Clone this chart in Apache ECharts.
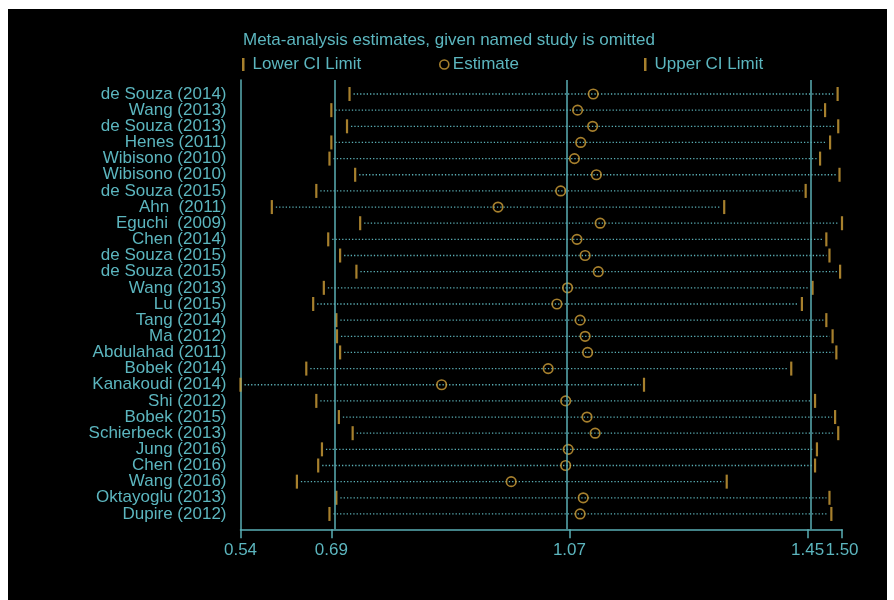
<!DOCTYPE html>
<html>
<head>
<meta charset="utf-8">
<script src="https://cdn.jsdelivr.net/npm/echarts@6/dist/echarts.min.js"></script>
<style>
  html, body { margin: 0; padding: 0; background: #ffffff; }
  #chart { width: 894px; height: 600px; }
</style>
</head>
<body>
<div id="chart"></div>
<script>
// Influence analysis: pooled estimate with one study left out at a time
const studies = [
  'de Souza (2014)', 'Wang (2013)', 'de Souza (2013)', 'Henes (2011)',
  'Wibisono (2010)', 'Wibisono (2010)', 'de Souza (2015)', 'Ahn  (2011)',
  'Eguchi  (2009)', 'Chen (2014)', 'de Souza (2015)', 'de Souza (2015)',
  'Wang (2013)', 'Lu (2015)', 'Tang (2014)', 'Ma (2012)',
  'Abdulahad (2011)', 'Bobek (2014)', 'Kanakoudi (2014)', 'Shi (2012)',
  'Bobek (2015)', 'Schierbeck (2013)', 'Jung (2016)', 'Chen (2016)',
  'Wang (2016)', 'Oktayoglu (2013)', 'Dupire (2012)'
];
const lowerCI = [
  0.714, 0.685, 0.710, 0.685, 0.682, 0.723, 0.661, 0.590, 0.731,
  0.680, 0.699, 0.725, 0.673, 0.656, 0.693, 0.694, 0.699, 0.645,
  0.540, 0.661, 0.697, 0.719, 0.670, 0.664, 0.630, 0.693, 0.682
];
const estimate = [
  1.103, 1.078, 1.102, 1.083, 1.073, 1.108, 1.051, 0.951, 1.114,
  1.077, 1.090, 1.111, 1.062, 1.045, 1.082, 1.090, 1.094, 1.031,
  0.861, 1.059, 1.093, 1.106, 1.063, 1.059, 0.972, 1.087, 1.082
];
const upperCI = [
  1.493, 1.473, 1.494, 1.481, 1.465, 1.496, 1.442, 1.312, 1.500,
  1.475, 1.480, 1.497, 1.453, 1.436, 1.475, 1.485, 1.491, 1.419,
  1.184, 1.457, 1.489, 1.494, 1.460, 1.457, 1.316, 1.480, 1.483
];
// x-axis ticks: smallest lower limit, overall lower limit, overall estimate,
// overall upper limit, largest upper limit
const tickValues = [0.540, 0.685, 1.065, 1.445, 1.500];
const tickLabels = ['0.54', '0.69', '1.07', '1.45', '1.50'];

const TEXT = '#5cb6bf';
const LINE = '#5aaeb5';
const GOLD = '#d1a038';
const FONT = '"Liberation Sans", Arial, sans-serif';

// row positions on the y value axis; the plot region has some padding above
// the first row and below the last one
const rows = studies.map((_, i) => i);
const yMin = -0.867;
const yMax = 26.95;
// blank guard labels at both ends absorb the axis' min/max label overlap check
const yLabelValues = [yMin + 0.01, ...rows, yMax - 0.01];
const overallLines = tickValues.slice(1, 4);

const chart = echarts.init(document.getElementById('chart'), null, { renderer: 'canvas' });

chart.setOption({
  backgroundColor: '#ffffff',
  animation: false,
  graphic: [{
    type: 'rect', left: 8, top: 9, z: -10,
    shape: { width: 879, height: 591 },
    style: { fill: '#000000' }
  }],
  title: {
    text: 'Meta-analysis estimates, given named study is omitted',
    left: 243, top: 32, padding: 0,
    textStyle: { color: TEXT, fontSize: 17, fontWeight: 'normal', fontFamily: FONT }
  },
  legend: [
    {
      data: [{ name: 'Lower CI Limit', icon: 'rect' }],
      left: 242, top: 56, padding: 0, itemWidth: 2.5, itemHeight: 13,
      textStyle: { color: TEXT, fontSize: 17, fontFamily: FONT, padding: [0, 0, 0, 3] },
      selectedMode: false
    },
    {
      data: [{ name: 'Estimate', icon: 'circle' }],
      left: 439, top: 56, padding: 0, itemWidth: 9, itemHeight: 9,
      itemStyle: { color: 'transparent', borderColor: GOLD, borderWidth: 1.6 },
      textStyle: { color: TEXT, fontSize: 17, fontFamily: FONT, padding: [0, 0, 0, -1] },
      selectedMode: false
    },
    {
      data: [{ name: 'Upper CI Limit', icon: 'rect' }],
      left: 644, top: 56, padding: 0, itemWidth: 2.5, itemHeight: 13,
      textStyle: { color: TEXT, fontSize: 17, fontFamily: FONT, padding: [0, 0, 0, 3] },
      selectedMode: false
    }
  ],
  grid: { left: 240.5, top: 80, width: 601.5, height: 449.3 },
  xAxis: {
    type: 'value',
    min: tickValues[0],
    max: tickValues[tickValues.length - 1],
    axisLine: { show: true, onZero: false, lineStyle: { color: LINE, width: 1.5 } },
    axisTick: {
      show: true, length: 9, customValues: tickValues,
      lineStyle: { color: LINE, width: 1.5 }
    },
    axisLabel: {
      customValues: tickValues,
      formatter: v => tickLabels[tickValues.indexOf(v)],
      color: TEXT, fontSize: 17, fontFamily: FONT, margin: 13,
      hideOverlap: false
    },
    splitLine: { show: false }
  },
  yAxis: {
    type: 'value',
    inverse: true,
    min: yMin,
    max: yMax,
    axisLine: { show: true, onZero: false, lineStyle: { color: LINE, width: 1.5 } },
    axisTick: { show: false },
    axisLabel: {
      customValues: yLabelValues,
      hideOverlap: false,
      formatter: v => (Number.isInteger(v) ? studies[v] : ''),
      color: TEXT, fontSize: 17, fontFamily: FONT, margin: 14
    },
    splitLine: { show: false }
  },
  series: [
    {
      // dotted span from lower to upper confidence limit
      name: 'span',
      type: 'custom',
      z: 1,
      silent: true,
      data: rows.map(i => [lowerCI[i], upperCI[i], i]),
      encode: { x: [0, 1], y: 2 },
      renderItem: (params, api) => {
        const a = api.coord([api.value(0), api.value(2)]);
        const b = api.coord([api.value(1), api.value(2)]);
        return {
          type: 'line',
          shape: { x1: a[0] + 4, y1: a[1], x2: b[0] - 3, y2: b[1] },
          style: { stroke: LINE, lineWidth: 1.3, lineDash: [1.3, 2] }
        };
      },
      markLine: {
        silent: true,
        symbol: 'none',
        label: { show: false },
        lineStyle: { color: LINE, width: 1.5, type: 'solid' },
        data: overallLines.map(v => ({ xAxis: v }))
      }
    },
    {
      name: 'Lower CI Limit',
      type: 'scatter',
      z: 3,
      symbol: 'rect',
      symbolSize: [2.2, 14],
      itemStyle: { color: GOLD },
      data: rows.map(i => [lowerCI[i], i])
    },
    {
      name: 'Estimate',
      type: 'scatter',
      z: 4,
      symbol: 'circle',
      symbolSize: 9.5,
      itemStyle: { color: 'transparent', borderColor: GOLD, borderWidth: 1.7 },
      data: rows.map(i => [estimate[i], i])
    },
    {
      name: 'Upper CI Limit',
      type: 'scatter',
      z: 3,
      symbol: 'rect',
      symbolSize: [2.2, 14],
      itemStyle: { color: GOLD },
      data: rows.map(i => [upperCI[i], i])
    }
  ]
});
</script>
</body>
</html>
